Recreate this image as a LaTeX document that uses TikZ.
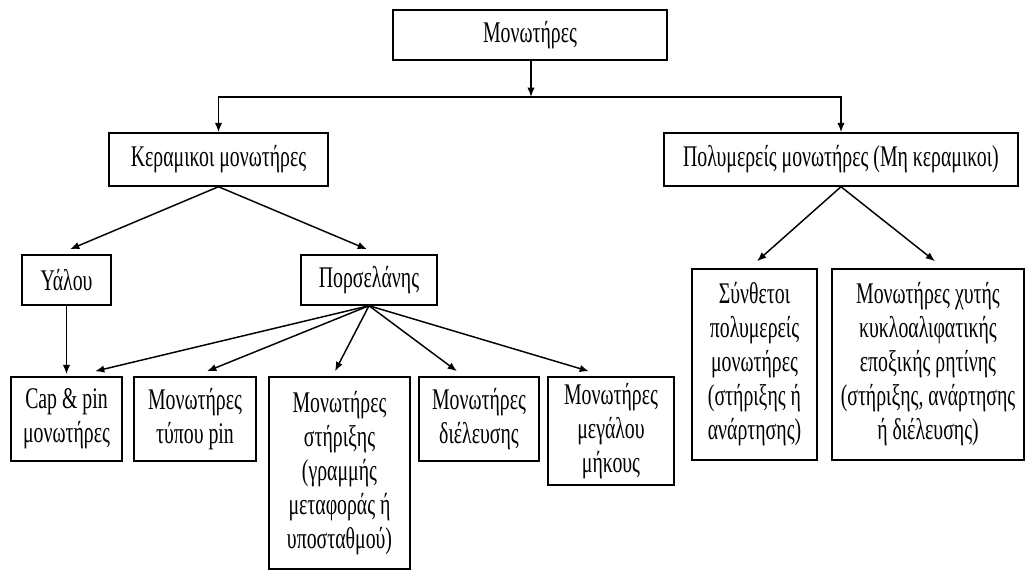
\documentclass[tikz,border=0pt]{standalone}
\usepackage{fontspec}
\setmainfont{Liberation Serif}[FakeStretch=0.66]
\usetikzlibrary{arrows.meta,calc}
\begin{document}
\begin{tikzpicture}[x=0.75pt,y=-0.75pt,
  box/.style={draw, line width=1.1pt, inner sep=0pt, align=center,
    font=\fontsize{22.5}{25.5}\selectfont},
  wh/.style 2 args={minimum width=#1*0.75pt, minimum height=#2*0.75pt},
  arr/.style={line width=1.1pt, -{Latex[length=7pt,width=5.5pt]}}]
\useasboundingbox (0,0) rectangle (1033,570);
\node[box, wh={274}{50}] (top) at (530,35) {Μονωτήρες};
\node[box, wh={219}{53}] (ker) at (218.5,159.5) {Κεραμικοι μονωτήρες};
\node[box, wh={354}{53}] (pol) at (841,159.5) {Πολυμερείς μονωτήρες (Μη κεραμικοι)};
\node[box, wh={89}{50}] (yal) at (66.5,280) {Υάλου};
\node[box, wh={136}{50}] (por) at (369,280) {Πορσελάνης};
\node[box, wh={111}{84}] (cap) at (66.5,419) {Cap \& pin\\μονωτήρες};
\node[box, wh={122}{84}] (pin) at (195,419) {Μονωτήρες\\τύπου pin};
\node[box, wh={141}{192}] (sti) at (339.5,473) {Μονωτήρες\\στήριξης\\(γραμμής\\μεταφοράς ή\\υποσταθμού)};
\node[box, wh={120}{84}] (die) at (479,419) {Μονωτήρες\\διέλευσης};
\node[box, wh={126}{108}] (meg) at (611,431) {Μονωτήρες\\μεγάλου\\μήκους};
\node[box, wh={125}{191}] (syn) at (754.5,364.5) {Σύνθετοι\\πολυμερείς\\μονωτήρες\\(στήριξης ή\\ανάρτησης)};
\node[box, wh={192}{191}] (xyt) at (928,364.5) {Μονωτήρες χυτής\\κυκλοαλιφατικής\\εποξικής ρητίνης\\(στήριξης, ανάρτησης\\ή διέλευσης)};
\coordinate (bar) at (531,97);
\draw[arr] (top.south -| bar) -- (bar);
\draw[arr] (bar) -| (ker.north);
\draw[arr] (bar) -| (pol.north);
\draw[arr] (ker.south) -- ($(yal.north)+(3.5,-5)$);
\draw[arr] (ker.south) -- ($(por.north)+(-2,-5)$);
\draw[arr] (yal.south) -- ($(cap.north)+(0,-2)$);
\draw[arr] (por.south) -- ($(cap.north)+(28.5,-5)$);
\draw[arr] (por.south) -- ($(pin.north)+(12,-5)$);
\draw[arr] (por.south) -- ($(sti.north)+(-4.5,-5)$);
\draw[arr] (por.south) -- ($(die.north)+(-22,-5)$);
\draw[arr] (por.south) -- ($(meg.north)+(-22,-5)$);
\draw[arr] (pol.south) -- ($(syn.north)+(2.5,-7)$);
\draw[arr] (pol.south) -- ($(xyt.north)+(7,-7)$);
\end{tikzpicture}
\end{document}
